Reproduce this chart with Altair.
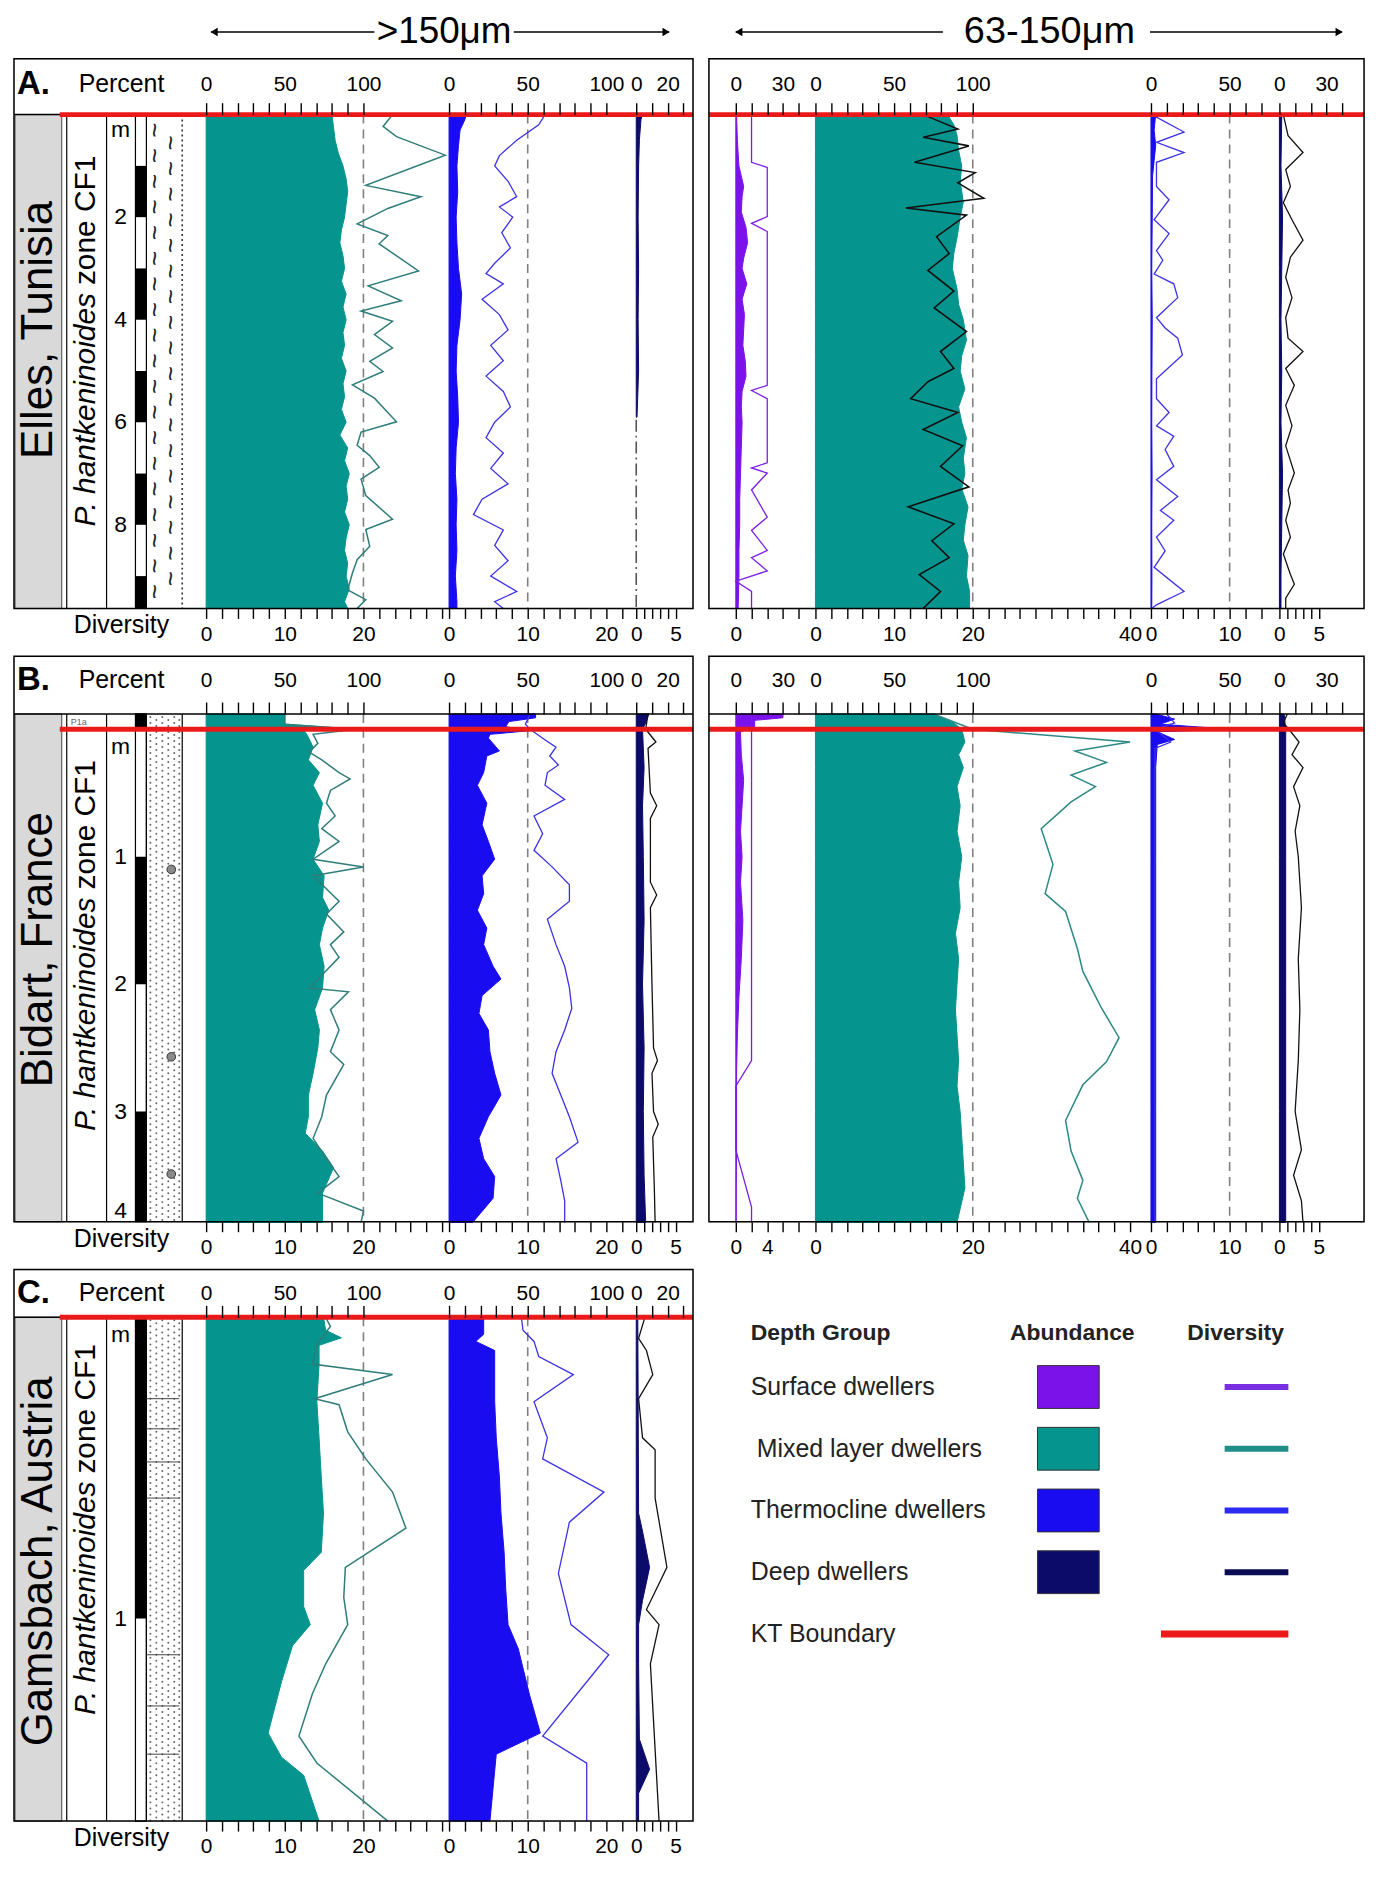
import altair as alt
import numpy as np
import pandas as pd

FONT = "Liberation Sans"

# ------------------------------------------------------------------ colours
C_SURF = "#7b12ea"
C_MIX = "#05948e"
C_THERMO = "#1a0cf0"
C_DEEP = "#0c0b6a"
C_KT = "#ea1a1a"
L_SURF = "#7a1ee6"
L_MIX = "#2f7d7a"
L_MIX_B = "#2b8884"
L_THERMO = "#3d31e6"
L_BLACK = "#111111"
GRAY = "#d9d9d9"
DASH = "#808080"

PX_PCT = 1.58   # px per percent
PX_DIV = 7.9    # px per species

# ------------------------------------------------------------------ data
# ---- A. Elles, Tunisia  (>150 um)
EL1_MIX_D = [0, 0.25, 0.5, 0.75, 1, 1.25, 1.5, 1.75, 2, 2.25, 2.5, 2.75, 3, 3.25, 3.5, 3.75, 4, 4.25, 4.5,
             4.75, 5, 5.25, 5.5, 5.75, 6, 6.25, 6.5, 6.75, 7, 7.25, 7.5, 7.75, 8, 8.25, 8.5, 8.75, 9, 9.25,
             9.5, 9.63]
EL1_MIX_A = [80, 81, 82, 84, 87, 89, 90, 89, 88, 86, 85, 87, 88, 86, 89, 87, 89, 87, 88, 86, 89, 87, 88, 86,
             89, 85, 90, 88, 91, 89, 90, 88, 91, 89, 88, 90, 89, 91, 88, 90]
EL1_MIXDIV_D = [0.0, 0.23, 0.43, 0.79, 1.38, 1.6, 1.83, 2.13, 2.36, 2.52, 3.05, 3.34, 3.63, 3.83, 4.03, 4.29,
                4.55, 4.81, 5.01, 5.27, 5.53, 5.99, 6.19, 6.45, 6.65, 6.88, 7.11, 7.43, 7.89, 8.09, 8.42,
                8.68, 8.94, 9.27, 9.46, 9.63]
EL1_MIXDIV = [23.7, 22.5, 24.2, 30.4, 20.3, 27.3, 23.1, 19.2, 23.1, 22.0, 27.0, 20.6, 24.8, 19.7, 23.7, 21.4,
              23.7, 20.8, 22.5, 18.6, 21.4, 24.2, 19.7, 19.2, 20.8, 22.0, 19.7, 20.3, 23.7, 20.3, 20.8, 19.2,
              18.6, 18.0, 20.3, 19.2]
EL1_TH_D = [0, 0.1, 0.3, 0.6, 1.0, 1.5, 2.0, 2.5, 3.0, 3.5, 4.0, 4.5, 5.0, 5.5, 6.0, 6.5, 7.0, 7.5, 8.0, 8.5,
            9.0, 9.5, 9.63]
EL1_TH_A = [11, 10, 7, 6, 5, 5.5, 4.5, 5, 6, 8, 7, 5, 4.5, 5.5, 6, 4.5, 4, 5, 4.5, 5, 4, 5, 5]
EL1_THDIV_D = [0, 0.2, 0.5, 0.8, 1.0, 1.3, 1.6, 1.8, 2.0, 2.3, 2.6, 2.9, 3.1, 3.3, 3.6, 3.9, 4.2, 4.5, 4.8,
               5.1, 5.4, 5.7, 6.0, 6.3, 6.6, 6.9, 7.2, 7.5, 7.8, 8.1, 8.4, 8.7, 9.0, 9.3, 9.5, 9.63]
EL1_THDIV = [12.2, 11.4, 8.6, 6.4, 5.8, 7.5, 8.6, 6.4, 8.1, 6.7, 7.8, 5.8, 4.7, 6.9, 4.2, 6.4, 7.5, 5.3, 6.9,
             4.7, 6.9, 7.8, 5.8, 4.7, 6.9, 5.3, 7.5, 4.2, 3.1, 6.9, 5.8, 7.5, 5.3, 8.6, 5.8, 6.9]
EL1_DEEP_D = [0, 0.1, 0.5, 1, 2, 3, 4, 5, 5.9]
EL1_DEEP_A = [4, 3, 2, 1.5, 1.2, 1.5, 1.2, 1.5, 0.5]

# ---- A. Elles, Tunisia  (63-150 um)
EL2_SURF_D = [0, 0.5, 1.0, 1.4, 1.6, 1.9, 2.2, 2.5, 2.8, 3.0, 3.3, 3.6, 3.9, 4.2, 4.5, 4.8, 5.1, 5.4, 5.7,
              6.0, 6.5, 7.0, 7.5, 8.0, 8.5, 9.0, 9.63]
EL2_SURF_A = [0.5, 1, 2, 5, 4, 3.5, 6.5, 7.5, 5, 4, 7, 4, 5.5, 5, 4.5, 6, 6.5, 4, 3.5, 4, 3.5, 3, 2.5, 2.5,
              2, 2, 1.5]
EL2_SURFDIV_D = [0, 0.93, 1.03, 1.99, 2.12, 2.28, 5.28, 5.38, 5.54, 6.79, 6.89, 6.99, 7.32, 7.85, 8.11, 8.5,
                 8.64, 8.9, 9.1, 9.3, 9.63]
EL2_SURFDIV = [2, 2, 4, 4, 2, 4, 4, 2, 4, 4, 2, 4, 2, 4, 2, 4, 2, 4, 0, 2, 2]
EL2_MIX_D = [0, 0.2, 0.4, 0.7, 1.0, 1.3, 1.7, 2.0, 2.4, 2.7, 3.0, 3.4, 3.7, 4.0, 4.4, 4.7, 5.0, 5.35, 5.7,
             6.0, 6.3, 6.7, 7.0, 7.3, 7.65, 8.0, 8.3, 8.6, 9.0, 9.3, 9.63]
EL2_MIX_A = [84, 88, 90, 91, 93, 92, 94, 92, 90, 88, 87, 90, 91, 94, 96, 93, 92, 95, 91, 93, 96, 94, 95, 93,
             97, 95, 94, 97, 96, 98, 98]
EL2_MIXDIV_D = [0.0, 0.28, 0.44, 0.61, 0.93, 1.13, 1.33, 1.63, 1.82, 1.96, 2.38, 2.71, 3.04, 3.44, 3.77,
                4.23, 4.62, 4.95, 5.21, 5.54, 5.81, 6.14, 6.46, 6.86, 7.26, 7.65, 7.98, 8.31, 8.64, 8.97,
                9.30, 9.63]
EL2_MIXDIV = [13.7, 18.1, 13.7, 19.5, 12.6, 20.3, 18.1, 21.4, 11.5, 19.2, 15.4, 17.0, 14.3, 17.6, 15.1,
              19.2, 15.9, 17.6, 14.3, 12.1, 18.1, 13.7, 18.7, 15.9, 19.5, 11.8, 17.6, 14.8, 17.0, 13.2,
              15.9, 13.7]
EL2_TH_D = [0, 0.3, 0.6, 0.9, 1.2, 2, 3, 4, 5, 6, 7, 8, 9, 9.63]
EL2_TH_A = [3, 2, 3, 2, 1, 0.8, 0.5, 0.8, 0.6, 0.5, 0.7, 0.5, 0.6, 0.5]
EL2_THDIV_D = [0.0, 0.34, 0.54, 0.74, 0.93, 1.40, 1.66, 2.05, 2.32, 2.65, 2.84, 3.11, 3.30, 3.57, 3.96,
               4.16, 4.36, 4.69, 5.15, 5.54, 5.81, 6.07, 6.27, 6.53, 6.86, 7.12, 7.45, 7.72, 7.91, 8.24,
               8.51, 8.83, 9.30, 9.56, 9.63]
EL2_THDIV = [0.1, 4.2, 0.7, 4.2, 0.7, 0.7, 2.3, 0.4, 2.3, 0.7, 1.5, 0.4, 2.9, 3.4, 0.7, 1.8, 3.4, 4.0, 0.7,
             0.7, 2.3, 0.7, 2.9, 1.8, 2.9, 0.7, 3.4, 1.2, 2.9, 0.7, 1.8, 0.4, 4.2, 0.7, 0.1]
EL2_DEEP_D = [0, 1, 2, 3, 4, 5, 6, 7, 8, 9, 9.63]
EL2_DEEP_A = [1.5, 1, 2, 1.5, 1, 1.5, 1, 2, 1.5, 1, 1]
EL2_DEEPDIV_D = [0.0, 0.41, 0.74, 1.07, 1.40, 1.72, 2.05, 2.45, 2.78, 3.17, 3.57, 3.96, 4.36, 4.62, 4.95,
                 5.28, 5.67, 6.07, 6.46, 6.99, 7.32, 7.58, 7.91, 8.24, 8.57, 8.97, 9.16, 9.43, 9.63]
EL2_DEEPDIV = [0.5, 1.1, 3.0, 0.8, 1.4, 0.5, 1.6, 3.0, 1.4, 0.8, 1.6, 0.8, 1.1, 3.0, 0.8, 1.9, 0.8, 1.6,
               0.8, 1.9, 1.1, 1.4, 0.8, 1.4, 0.5, 1.4, 1.9, 0.8, 0.8]

# ---- B. Bidart, France  (>150 um)
BI1_MIX_D = [-0.12, -0.04, 0.0, 0.01, 0.04, 0.14, 0.24, 0.34, 0.44, 0.58, 0.75, 0.88, 1.02, 1.15, 1.32,
             1.42, 1.56, 1.69, 1.86, 2.03, 2.20, 2.36, 2.50, 2.70, 2.87, 3.04, 3.17, 3.31, 3.44, 3.64, 3.87]
BI1_MIX_A = [50, 50, 96, 62, 64, 68, 65, 72, 68, 74, 71, 72, 68, 75, 74, 78, 74, 72, 75, 74, 69, 72, 71, 68,
             65, 65, 63, 74, 81, 74, 74]
BI1_MIXDIV_D = [-0.12, -0.04, 0.0, 0.04, 0.11, 0.18, 0.24, 0.34, 0.39, 0.48, 0.58, 0.68, 0.78, 0.88, 1.02,
                1.08, 1.15, 1.35, 1.45, 1.59, 1.69, 1.79, 1.93, 2.03, 2.06, 2.20, 2.36, 2.53, 2.63, 2.87,
                3.04, 3.21, 3.37, 3.51, 3.64, 3.78, 3.87]
BI1_MIXDIV = [10, 10, 19, 13.6, 14.2, 13.1, 14.7, 16.9, 18.3, 15.8, 15.3, 16.4, 14.7, 16.9, 13.6, 20, 13.6,
              16.9, 15.3, 17.5, 15.8, 16.9, 14.7, 13.1, 18.1, 15.8, 16.9, 15.8, 17.5, 15.3, 14.7, 13.6,
              15.3, 16.9, 14.2, 20, 19.7]
BI1_TH_D = [-0.12, -0.09, -0.06, -0.02, 0.01, 0.04, 0.07, 0.17, 0.21, 0.34, 0.44, 0.58, 0.75, 0.88, 1.02,
            1.15, 1.29, 1.42, 1.56, 1.69, 1.86, 1.96, 2.09, 2.23, 2.36, 2.53, 2.70, 2.87, 3.04, 3.21, 3.37,
            3.51, 3.68, 3.87]
BI1_TH_A = [55, 55, 38, 36, 52, 26, 25, 32, 24, 22, 18, 24, 21, 25, 29, 21, 22, 18, 24, 22, 28, 33, 21, 19,
            25, 26, 29, 33, 25, 19, 22, 29, 28, 15]
BI1_THDIV_D = [-0.12, -0.04, 0.0, 0.07, 0.14, 0.21, 0.28, 0.34, 0.44, 0.55, 0.68, 0.82, 0.95, 1.08, 1.22,
               1.35, 1.49, 1.69, 1.86, 2.03, 2.19, 2.36, 2.53, 2.70, 2.87, 3.04, 3.24, 3.37, 3.54, 3.70, 3.87]
BI1_THDIV = [10.3, 9.7, 10.3, 11.9, 13.6, 12.8, 13.9, 12.5, 12.2, 14.7, 10.8, 11.9, 10.8, 13.1, 15.3, 15.3,
             12.5, 13.6, 14.7, 15.3, 15.6, 14.7, 13.6, 13.1, 14.2, 15.3, 16.4, 13.6, 14.2, 14.7, 14.7]
BI1_DEEP_D = [-0.12, -0.05, 0, 0.3, 0.6, 1.0, 1.5, 2.0, 2.5, 3.0, 3.5, 3.87]
BI1_DEEP_A = [8, 6, 4, 5, 4, 4.5, 5, 4, 5, 4.5, 5, 6]
BI1_DEEPDIV_D = [-0.12, 0, 0.1, 0.15, 0.5, 0.6, 0.7, 1.2, 1.3, 1.4, 2.0, 2.5, 2.6, 2.7, 3.0, 3.1, 3.2, 3.6,
                 3.87]
BI1_DEEPDIV = [1.5, 1.2, 2.5, 1.5, 1.8, 2.6, 1.8, 1.8, 2.6, 1.8, 2.0, 2.2, 2.7, 2.0, 2.2, 2.8, 2.1, 2.3, 2.4]

# ---- B. Bidart, France  (63-150 um)
BI2_SURF_D = [-0.12, -0.09, -0.07, -0.02, 0.02, 0.2, 0.4, 0.6, 0.8, 1.0, 1.2, 1.5, 1.8, 2.1, 2.4, 2.7, 3.0,
              3.3, 3.6, 3.87]
BI2_SURF_A = [30, 30, 12, 12, 3, 3.5, 5, 4, 3, 4, 3, 4.5, 3.5, 2, 1, 0.5, 0.5, 0.5, 0.3, 0.3]
BI2_SURFDIV_D = [-0.12, 2.6, 2.8, 3.3, 3.75, 3.87]
BI2_SURFDIV = [2, 2, 0, 0, 2, 2]
BI2_MIX_D = [-0.12, -0.05, 0.0, 0.1, 0.2, 0.3, 0.45, 0.6, 0.8, 1.0, 1.2, 1.4, 1.6, 1.8, 2.0, 2.2, 2.4, 2.6,
             2.8, 3.0, 3.2, 3.4, 3.6, 3.87]
BI2_MIX_A = [75, 88, 93, 95, 91, 94, 90, 92, 90, 93, 91, 92, 89, 91, 90, 89, 90, 91, 90, 92, 93, 94, 95, 90]
BI2_MIXDIV_D = [-0.12, 0.0, 0.1, 0.17, 0.26, 0.36, 0.45, 0.57, 0.78, 1.06, 1.29, 1.43, 1.72, 1.90, 2.18,
                2.42, 2.61, 2.79, 3.07, 3.31, 3.54, 3.68, 3.87]
BI2_MIXDIV = [15, 20, 40, 33, 37, 32.5, 35.6, 32.5, 28.7, 30.2, 29.2, 31.8, 33.3, 34, 36.3, 38.6, 37, 34,
              31.8, 32.5, 34, 33.3, 34.8]
BI2_TH_D = [-0.12, -0.08, -0.04, 0.0, 0.02, 0.08, 0.12, 0.3, 1, 2, 3, 3.87]
BI2_TH_A = [3, 15, 6, 50, 4, 15, 4, 3, 3, 3, 3, 3]
BI2_THDIV_D = [-0.12, -0.05, 0.0, 0.1, 0.15, 3.87]
BI2_THDIV = [2, 3, 0.5, 2.5, 0.5, 0.5]
BI2_DEEP_D = [-0.12, 0, 1, 2, 3, 3.87]
BI2_DEEP_A = [3, 4, 4, 4, 4, 4]
BI2_DEEPDIV_D = [-0.12, -0.05, 0.0, 0.1, 0.2, 0.3, 0.45, 0.6, 0.8, 1.0, 1.4, 1.8, 2.2, 2.6, 3.0, 3.3, 3.5,
                 3.7, 3.87]
BI2_DEEPDIV = [1, 0.5, 1.2, 2.5, 1.6, 3, 1.8, 2.6, 2, 2.4, 2.8, 2.4, 2.6, 2.4, 2.0, 2.8, 1.8, 2.8, 3.0]

# ---- C. Gamsbach, Austria  (>150 um)
GA1_MIX_D = [0.0, 0.043, 0.068, 0.093, 0.155, 0.28, 0.40, 0.53, 0.65, 0.78, 0.84, 0.96, 1.02, 1.09, 1.21,
             1.38, 1.46, 1.52, 1.672]
GA1_MIX_A = [74.6, 76, 86, 71.8, 71.8, 70.4, 71.8, 73.2, 74.6, 73.2, 62, 62, 66.2, 54.9, 47.9, 39.4, 47.9,
             62, 71.8]
GA1_MIXDIV_D = [0.0, 0.03, 0.09, 0.155, 0.19, 0.27, 0.29, 0.38, 0.47, 0.58, 0.70, 0.83, 0.93, 1.02, 1.15,
                1.25, 1.39, 1.48, 1.672]
GA1_MIXDIV = [15.2, 15.8, 14.1, 13.5, 23.7, 13.8, 16.9, 18.0, 20.3, 23.7, 25.4, 17.7, 17.5, 18.0, 15.2,
              13.5, 11.8, 14.1, 23.1]
GA1_TH_D = [0.0, 0.056, 0.08, 0.11, 0.28, 0.40, 0.53, 0.65, 0.78, 0.90, 1.02, 1.10, 1.25, 1.38, 1.45, 1.672]
GA1_TH_A = [22, 22, 17, 29, 29, 30, 32, 33, 35, 36, 37.5, 44, 51, 58, 30, 26]
GA1_THDIV_D = [0.0, 0.043, 0.08, 0.13, 0.19, 0.28, 0.40, 0.47, 0.58, 0.68, 0.85, 1.02, 1.12, 1.39, 1.48,
               1.672]
GA1_THDIV = [9.2, 9.4, 10.8, 11.4, 15.8, 10.8, 12.5, 11.9, 19.7, 15.3, 13.9, 15.5, 20.3, 11.9, 17.5, 17.5]
GA1_DEEP_D = [0, 0.65, 0.71, 0.83, 0.94, 1.02, 1.15, 1.40, 1.50, 1.58, 1.672]
GA1_DEEP_A = [1, 1.5, 4, 8.5, 4, 1.5, 1.5, 2, 8.5, 1.5, 1.5]
GA1_DEEPDIV_D = [0, 0.07, 0.11, 0.19, 0.27, 0.40, 0.44, 0.60, 0.83, 0.97, 1.02, 1.15, 1.672]
GA1_DEEPDIV = [1.1, 0.3, 1.3, 2.1, 0.3, 0.8, 2.4, 2.4, 3.9, 1.3, 2.9, 1.8, 2.9]

# ---- section columns (depth labels, 1 m scale bars)
A_DEPTH_LBL = ["m", "2", "4", "6", "8"]
A_DEPTH_POS = [0.3, 2, 4, 6, 8]
A_BAR_TOP = [1, 3, 5, 7, 9]
A_BAR_BOT = [2, 4, 6, 8, 9.63]
B_DEPTH_LBL = ["m", "1", "2", "3", "4"]
B_DEPTH_POS = [0.14, 1, 2, 3, 3.78]
B_BAR_TOP = [-0.12, 1, 3]
B_BAR_BOT = [0, 2, 3.864]
B_NODULES = [1.1, 2.57, 3.49]
C_DEPTH_LBL = ["m", "1"]
C_DEPTH_POS = [0.06, 1]
C_BAR_TOP = [0]
C_BAR_BOT = [1]
C_BEDS = [0.27, 0.37, 0.48, 0.60, 1.12, 1.29, 1.45]

LEG_GROUPS = ["Surface dwellers", "Mixed layer dwellers", "Thermocline dwellers", "Deep dwellers"]
LEG_FILLS = [C_SURF, C_MIX, C_THERMO, C_DEEP]
LEG_LINES = ["#7a2ee2", "#1f8e89", "#2a2af0", "#0b0b55"]
LEG_KT = "KT Boundary"
LEG_HEADERS = ["Depth Group", "Abundance", "Diversity"]

# ------------------------------------------------------------------ geometry
GEO_A = dict(H=552, dom=[-1.0874, 9.6311], head=56, pad=8, top=0.0, bot=9.6311, pxpm=51.5)
GEO_B = dict(H=568, dom=[-0.573, 3.8645], head=58, pad=12, top=-0.12, bot=3.8645, pxpm=128.0)
GEO_C = dict(H=554, dom=[-0.15863, 1.6722], head=48, pad=2, top=0.0, bot=1.6722, pxpm=302.6)
W_LEFT = 682
W_RIGHT = 658
LABEL_SIZE = 21

LEFT_TRACKS = {
    "mix": dict(x0=193, p=(100, 10, [0, 50, 100]), dv=(30, 2, [0, 10, 20])),
    "thermo": dict(x0=437, p=(100, 10, [0, 50, 100]), dv=(22, 2, [0, 10, 20])),
    "deep": dict(x0=625, p=(30, 10, [0, 20]), dv=(5, 1, [0, 5])),
}


def right_tracks(surf_lbl, mix_lbl):
    return {
        "surf": dict(x0=27, p=(40, 10, [0, 30]), dv=(8, 2, surf_lbl)),
        "mix": dict(x0=107, p=(100, 10, [0, 50, 100]), dv=(40, 2, mix_lbl)),
        "thermo": dict(x0=444, p=(70, 10, [0, 50]), dv=(14, 2, [0, 10])),
        "deep": dict(x0=573, p=(40, 10, [0, 30]), dv=(5, 1, [0, 5])),
    }


# ------------------------------------------------------------------ helpers
def frame(**cols):
    return pd.DataFrame(cols)


def yq(field, dom):
    return alt.Y(field + ":Q", scale=alt.Scale(domain=dom, reverse=True, nice=False, zero=False), axis=None)


def xsc(x0, dmax, k):
    return alt.Scale(domain=[0, dmax], range=[x0, x0 + dmax * k], nice=False)


def make_axis(orient, dmax, step, labels, offset, pad, tick):
    vals = list(range(0, dmax + 1, step))
    cond = " || ".join("datum.value == %s" % v for v in labels)
    return alt.Axis(orient=orient, values=vals, labelExpr="(%s) ? datum.label : ''" % cond,
                    offset=offset, domain=False, grid=False, ticks=True, tickSize=tick, tickWidth=1.4,
                    tickColor="black", labelFont=FONT, labelFontSize=LABEL_SIZE, labelColor="black",
                    labelPadding=pad, labelOverlap=False, labelFlush=False, labelBound=False, title=None,
                    zindex=2)


def axis_carrier(x0, dmax, k, ax, dom):
    # invisible point that carries an axis; it also has a y scale so that no extra size signal is emitted
    return alt.Chart(frame(v=[0], d=[dom[1]])).mark_point(opacity=0, size=1).encode(
        x=alt.X("v:Q", scale=xsc(x0, dmax, k), axis=ax), y=yq("d", dom))


def area_layer(x0, dmax, d, v, color, dom):
    return alt.Chart(frame(d=d, v=v)).mark_area(
        orient="horizontal", fill=color, stroke=color, strokeWidth=1, fillOpacity=1, interpolate="linear"
    ).encode(x=alt.X("v:Q", scale=xsc(x0, dmax, PX_PCT), axis=None, stack=None),
             x2=alt.X2(datum=0), y=yq("d", dom))


def line_layer(x0, dmax, d, v, color, dom, width):
    return alt.Chart(frame(d=d, v=v)).mark_line(color=color, strokeWidth=width, interpolate="linear").encode(
        x=alt.X("v:Q", scale=xsc(x0, dmax, PX_DIV), axis=None), y=yq("d", dom), order="d:Q")


def ref_rule(x0, dmax, val, d0, d1, dom, dash, color, width=1.6):
    return alt.Chart(frame(v=[val], a=[d0], b=[d1])).mark_rule(
        color=color, strokeDash=dash, strokeWidth=width).encode(
        x=alt.X("v:Q", scale=xsc(x0, dmax, PX_PCT), axis=None), y=yq("a", dom), y2="b:Q")


def txt_px(text, x, y, size, align="center", weight="normal", color="black"):
    return alt.Chart(frame(t=[text])).mark_text(
        fontSize=size, align=align, baseline="middle", fontWeight=weight, color=color, font=FONT
    ).encode(x=alt.value(x), y=alt.value(y), text="t:N")


def txt_depth(texts, depths, x, size, dom, color="black", **kw):
    return alt.Chart(frame(t=texts, d=depths)).mark_text(fontSize=size, font=FONT, color=color, **kw).encode(
        x=alt.value(x), y=yq("d", dom), text="t:N")


def vline_px(x, d0, d1, dom, color="black", width=1.2, dash=None):
    mk = dict(color=color, strokeWidth=width)
    if dash:
        mk["strokeDash"] = dash
    return alt.Chart(frame(a=[d0], b=[d1])).mark_rule(**mk).encode(x=alt.value(x), y=yq("a", dom), y2="b:Q")


def hline_px(d, x0, x1, dom, color, width):
    return alt.Chart(frame(d=[d])).mark_rule(color=color, strokeWidth=width).encode(
        x=alt.value(x0), x2=alt.value(x1), y=yq("d", dom))


def hline_top(y, x0, x1, color="black", width=1.3):
    return alt.Chart(frame(a=[0])).mark_rule(color=color, strokeWidth=width).encode(
        x=alt.value(x0), x2=alt.value(x1), y=alt.value(y))


def box_px(x0, x1, y0, y1, fill=None, stroke="black", sw=1.5):
    mk = dict(stroke=stroke, strokeWidth=sw)
    if fill:
        mk["fill"] = fill
    else:
        mk["fillOpacity"] = 0
    return alt.Chart(frame(a=[0])).mark_rect(**mk).encode(
        x=alt.value(x0), x2=alt.value(x1), y=alt.value(y0), y2=alt.value(y1))


def arrowhead(x, y, shape):
    return alt.Chart(frame(a=[0])).mark_point(shape=shape, filled=True, size=70, color="black", opacity=1).encode(
        x=alt.value(x), y=alt.value(y))


def rect_px(x0, x1, d0s, d1s, dom, fill, stroke=None, sw=1.0):
    mk = dict(fill=fill, strokeWidth=sw)
    if stroke:
        mk["stroke"] = stroke
    return alt.Chart(frame(a=d0s, b=d1s)).mark_rect(**mk).encode(
        x=alt.value(x0), x2=alt.value(x1), y=yq("a", dom), y2="b:Q")


def size_header(label, size, xl0, xl1, xr0, xr1, xc, y):
    return [hline_top(y, xl0, xl1), hline_top(y, xr0, xr1),
            arrowhead(xl0 + 3, y, "triangle-left"), arrowhead(xr1 - 3, y, "triangle-right"),
            txt_px(label, xc, y, size)]


def left_deco(geo, letter, site, site_mid, zone_j, dlabels, dpos, bar0, bar1, litho):
    dom, top, bot, H = geo["dom"], geo["top"], geo["bot"], geo["H"]
    L = [rect_px(1, 48, [top], [bot], dom, GRAY, "#444", 1.0),
         txt_depth([site], [site_mid], 25, 44, dom, angle=270, align="center", baseline="middle"),
         txt_depth(["P. hantkeninoides"], [zone_j], 72, 30, dom, angle=270, align="right",
                   baseline="middle", fontStyle="italic"),
         txt_depth(["zone CF1"], [zone_j - 8.0 / geo["pxpm"]], 72, 30, dom, angle=270, align="left",
                   baseline="middle"),
         vline_px(53, top, bot, dom), vline_px(93, top, bot, dom),
         txt_depth(dlabels, dpos, 107, 23, dom, align="center", baseline="middle"),
         rect_px(122, 133, [top], [bot], dom, "white", "black", 1.2),
         rect_px(122, 133, bar0, bar1, dom, "black")]
    L += litho
    ylab = geo["head"] - (12 + geo["pad"] + 10.5)
    L += [txt_px(letter, 3, ylab, 33, align="left", weight="bold"),
          txt_px("Percent", 108, ylab, 25),
          txt_px("Diversity", 108, H + 17, 25)]
    return L


def litho_marl(geo):
    dom, top, bot = geo["dom"], geo["top"], geo["bot"]
    d1 = [float(v) for v in np.round(np.arange(top + 0.3, bot - 0.15, 0.5), 3)]
    d2 = [float(v) for v in np.round(np.arange(top + 0.55, bot - 0.15, 0.5), 3)]
    return [txt_depth(["~"] * len(d1), d1, 141, 26, dom, color="#222", angle=90, align="center",
                      baseline="middle"),
            txt_depth(["~"] * len(d2), d2, 157, 26, dom, color="#222", angle=90, align="center",
                      baseline="middle"),
            vline_px(169, top, bot, dom, color="#333", width=1.6, dash=[2, 3])]


def litho_sand(geo, step, extra=None):
    dom, top, bot = geo["dom"], geo["top"], geo["bot"]
    L = []
    for i, x in enumerate([137, 143, 149, 155, 161, 166]):
        off = step / 2 if i % 2 == 0 else step
        ds = [float(v) for v in np.round(np.arange(top + off, bot, step), 4)]
        L.append(alt.Chart(frame(d=ds)).mark_circle(size=4, color="#666", opacity=1).encode(
            x=alt.value(x), y=yq("d", dom)))
    L += [vline_px(133, top, bot, dom), vline_px(169, top, bot, dom)]
    if extra:
        L += extra
    return L


def data_panel(W, geo, tracks, areas, lines, refs, deco, kt_x0):
    dom = geo["dom"]
    layers = list(deco)
    for (t, d0, d1, val, dash, col) in refs:
        sp = tracks[t]
        layers.append(ref_rule(sp["x0"], sp["p"][0], val, d0, d1, dom, dash, col))
    for (t, d, v, col) in areas:
        sp = tracks[t]
        layers.append(area_layer(sp["x0"], sp["p"][0], d, v, col, dom))
    for (t, d, v, col, w) in lines:
        sp = tracks[t]
        layers.append(line_layer(sp["x0"], sp["dv"][0], d, v, col, dom, w))
    layers.append(hline_px(geo["top"], 0, W, dom, "black", 1.5))
    layers.append(hline_px(0, kt_x0, W, dom, C_KT, 5))
    layers.append(box_px(0, W, 0, geo["H"]))
    for t, sp in tracks.items():
        pm, ps, pl = sp["p"]
        dm, ds, dl = sp["dv"]
        layers.append(axis_carrier(sp["x0"], pm, PX_PCT,
                                   make_axis("top", pm, ps, pl, -geo["head"], geo["pad"], 12), dom))
        layers.append(axis_carrier(sp["x0"], dm, PX_DIV, make_axis("bottom", dm, ds, dl, 0, 5, 10), dom))
    return alt.layer(*layers).resolve_scale(x="independent").properties(width=W, height=geo["H"])


def std_refs(geo):
    return [("mix", geo["top"], geo["bot"], 100, [9, 6], DASH),
            ("thermo", geo["top"], geo["bot"], 50, [9, 6], DASH)]


# ------------------------------------------------------------------ panels
RT_A = right_tracks([0], [0, 10, 20, 40])
RT_B = right_tracks([0, 4], [0, 20, 40])

# A left
deco_al = left_deco(GEO_A, "A.", "Elles, Tunisia", 4.2, 3.48, A_DEPTH_LBL, A_DEPTH_POS, A_BAR_TOP, A_BAR_BOT,
                    litho_marl(GEO_A))
deco_al += size_header(">150μm", 37, 198, 362, 502, 658, 432, -27)
panel_al = data_panel(
    W_LEFT, GEO_A, LEFT_TRACKS,
    areas=[("mix", EL1_MIX_D, EL1_MIX_A, C_MIX), ("thermo", EL1_TH_D, EL1_TH_A, C_THERMO),
           ("deep", EL1_DEEP_D, EL1_DEEP_A, C_DEEP)],
    lines=[("mix", EL1_MIXDIV_D, EL1_MIXDIV, L_MIX, 1.5), ("thermo", EL1_THDIV_D, EL1_THDIV, L_THERMO, 1.3)],
    refs=std_refs(GEO_A) + [("deep", 5.95, GEO_A["bot"], 0, [12, 4, 2, 4], "#555")],
    deco=deco_al, kt_x0=46)

# A right
deco_ar = size_header("63-150μm", 38, 27, 235, 443, 636, 342, -27)
panel_ar = data_panel(
    W_RIGHT, GEO_A, RT_A,
    areas=[("surf", EL2_SURF_D, EL2_SURF_A, C_SURF), ("mix", EL2_MIX_D, EL2_MIX_A, C_MIX),
           ("thermo", EL2_TH_D, EL2_TH_A, C_THERMO), ("deep", EL2_DEEP_D, EL2_DEEP_A, C_DEEP)],
    lines=[("surf", EL2_SURFDIV_D, EL2_SURFDIV, L_SURF, 1.3), ("mix", EL2_MIXDIV_D, EL2_MIXDIV, L_BLACK, 1.6),
           ("thermo", EL2_THDIV_D, EL2_THDIV, L_THERMO, 1.3), ("deep", EL2_DEEPDIV_D, EL2_DEEPDIV, L_BLACK, 1.3)],
    refs=std_refs(GEO_A), deco=deco_ar, kt_x0=0)

# B left
b_litho = litho_sand(GEO_B, 0.047, extra=[
    alt.Chart(frame(d=B_NODULES)).mark_point(shape="circle", filled=True, size=75, color="#8a8a8a",
                                           stroke="#333", strokeWidth=1, opacity=1).encode(
        x=alt.value(158), y=yq("d", GEO_B["dom"])),
    txt_depth(["P1a"], [-0.06], 57, 9, GEO_B["dom"], color="#666", align="left", baseline="middle")])
deco_bl = left_deco(GEO_B, "B.", "Bidart, France", 1.73, 1.32, B_DEPTH_LBL, B_DEPTH_POS, B_BAR_TOP, B_BAR_BOT,
                    b_litho)
panel_bl = data_panel(
    W_LEFT, GEO_B, LEFT_TRACKS,
    areas=[("mix", BI1_MIX_D, BI1_MIX_A, C_MIX), ("thermo", BI1_TH_D, BI1_TH_A, C_THERMO),
           ("deep", BI1_DEEP_D, BI1_DEEP_A, C_DEEP)],
    lines=[("mix", BI1_MIXDIV_D, BI1_MIXDIV, L_MIX, 1.5), ("thermo", BI1_THDIV_D, BI1_THDIV, L_THERMO, 1.3),
           ("deep", BI1_DEEPDIV_D, BI1_DEEPDIV, L_BLACK, 1.3)],
    refs=std_refs(GEO_B), deco=deco_bl, kt_x0=46)

# B right
panel_br = data_panel(
    W_RIGHT, GEO_B, RT_B,
    areas=[("surf", BI2_SURF_D, BI2_SURF_A, C_SURF), ("mix", BI2_MIX_D, BI2_MIX_A, C_MIX),
           ("thermo", BI2_TH_D, BI2_TH_A, C_THERMO), ("deep", BI2_DEEP_D, BI2_DEEP_A, C_DEEP)],
    lines=[("surf", BI2_SURFDIV_D, BI2_SURFDIV, L_SURF, 1.3), ("mix", BI2_MIXDIV_D, BI2_MIXDIV, L_MIX_B, 1.5),
           ("thermo", BI2_THDIV_D, BI2_THDIV, L_THERMO, 1.3), ("deep", BI2_DEEPDIV_D, BI2_DEEPDIV, L_BLACK, 1.3)],
    refs=std_refs(GEO_B), deco=[], kt_x0=0)

# C left
c_litho = litho_sand(GEO_C, 0.02, extra=[
    alt.Chart(frame(d=C_BEDS)).mark_rule(color="#444", strokeWidth=1).encode(
        x=alt.value(133), x2=alt.value(166), y=yq("d", GEO_C["dom"]))])
deco_cl = left_deco(GEO_C, "C.", "Gamsbach, Austria", 0.81, 0.545, C_DEPTH_LBL, C_DEPTH_POS, C_BAR_TOP,
                    C_BAR_BOT, c_litho)
panel_cl = data_panel(
    W_LEFT, GEO_C, LEFT_TRACKS,
    areas=[("mix", GA1_MIX_D, GA1_MIX_A, C_MIX), ("thermo", GA1_TH_D, GA1_TH_A, C_THERMO),
           ("deep", GA1_DEEP_D, GA1_DEEP_A, C_DEEP)],
    lines=[("mix", GA1_MIXDIV_D, GA1_MIXDIV, L_MIX, 1.5), ("thermo", GA1_THDIV_D, GA1_THDIV, L_THERMO, 1.3),
           ("deep", GA1_DEEPDIV_D, GA1_DEEPDIV, L_BLACK, 1.3)],
    refs=std_refs(GEO_C), deco=deco_cl, kt_x0=46)

# ------------------------------------------------------------------ legend (pixel layout)
ROW_Y = [118, 180, 242, 304, 366]
leg_layers = [box_px(0, W_RIGHT, 0, GEO_C["H"], fill="white", stroke="white", sw=5),
              txt_px(LEG_HEADERS[0], 42, 64, 23, align="left", weight="bold", color="#222"),
              txt_px(LEG_HEADERS[1], 365, 64, 23, weight="bold", color="#222"),
              txt_px(LEG_HEADERS[2], 529, 64, 23, weight="bold", color="#222")]
for i, g in enumerate(LEG_GROUPS):
    leg_layers.append(txt_px(g, 42 if i != 1 else 48, ROW_Y[i], 25, align="left", color="#222"))
    leg_layers.append(box_px(330, 392, ROW_Y[i] - 21.5, ROW_Y[i] + 21.5, fill=LEG_FILLS[i], stroke="#333", sw=1))
    leg_layers.append(hline_top(ROW_Y[i], 518, 582, color=LEG_LINES[i], width=6))
leg_layers.append(txt_px(LEG_KT, 42, ROW_Y[4], 25, align="left", color="#222"))
leg_layers.append(hline_top(ROW_Y[4], 454, 582, color=C_KT, width=7))
legend = alt.layer(*leg_layers).properties(width=W_RIGHT, height=GEO_C["H"])

# ------------------------------------------------------------------ assemble
chart = alt.concat(
    panel_al, panel_ar, panel_bl, panel_br, panel_cl, legend,
    columns=2, spacing={"row": 48, "column": 16}, bounds="flush", align="each",
).properties(
    padding={"left": 4, "top": 0, "right": 5, "bottom": 5}
).configure_view(stroke="transparent", strokeWidth=0, strokeOpacity=0).configure(font=FONT)

chart.save("out.html", embed_options={"renderer": "svg", "actions": False})
